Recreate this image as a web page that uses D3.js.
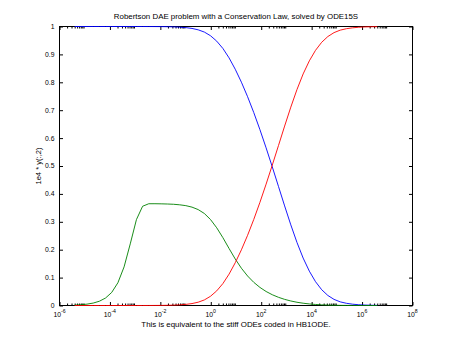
<!DOCTYPE html>
<html>
<head>
<meta charset="utf-8">
<script src="https://cdn.jsdelivr.net/npm/d3@7"></script>
<style>
  html, body { margin: 0; padding: 0; background: #fff; }
  svg { display: block; }
  text { font-family: "Liberation Sans", Arial, Helvetica, sans-serif; fill: #000; }
</style>
</head>
<body>
<svg id="chart" width="463" height="345"></svg>
<script>
// Output times of the solver (tspan = 4*logspace(-6,6), t = 0 dropped on a log axis)
const times = [
  4.0e-6, 7.03e-6, 1.2356e-5, 2.1716e-5, 3.8166e-5, 6.708e-5, 1.1789e-4, 2.072e-4,
  3.6416e-4, 6.4e-4, 1.1249e-3, 1.977e-3, 3.4746e-3, 6.1067e-3, 1.0733e-2, 1.8863e-2,
  3.3152e-2, 5.8265e-2, 0.1024, 0.17997, 0.3163, 0.55591, 0.97702, 1.7171,
  3.0179, 5.304, 9.3219, 16.383, 28.794, 50.606, 88.94, 156.31,
  274.72, 482.83, 848.6, 1491.4, 2621.2, 4606.8, 8096.6, 14230,
  25009, 43954, 77250, 135770, 238620, 419380, 737070, 1295400,
  2276700, 4000000
];

// y(:,1)
const y1 = [
  1.0000, 1.0000, 1.0000, 1.0000, 0.99999, 0.99999, 0.99999, 0.99999,
  0.99998, 0.99997, 0.99995, 0.99992, 0.99986, 0.99976, 0.99957, 0.99925,
  0.99868, 0.99769, 0.99599, 0.99306, 0.98812, 0.98002, 0.96687, 0.94752,
  0.92142, 0.88759, 0.84693, 0.80044, 0.74841, 0.69162, 0.63024, 0.56504,
  0.49696, 0.42695, 0.35686, 0.28906, 0.22592, 0.17002, 0.12311, 0.08546,
  0.05661, 0.0360, 0.0219, 0.0131, 0.0079, 0.00472, 0.00271, 0.00156,
  0.00090, 0.00052
];

// 1e4 * y(:,2)
const y2scaled = [
  0.0016, 0.0028, 0.0049, 0.0087, 0.0153, 0.0268, 0.0469, 0.0815,
  0.1384, 0.2209, 0.3079, 0.3557, 0.3647, 0.3648, 0.3644, 0.3638,
  0.3628, 0.3609, 0.3579, 0.3526, 0.3438, 0.3298, 0.3081, 0.2786,
  0.2432, 0.2044, 0.1668, 0.1336, 0.1057, 0.0830, 0.0648, 0.0502,
  0.0386, 0.0294, 0.0220, 0.0162, 0.0116, 0.0082, 0.0056, 0.0037,
  0.0024, 0.0015, 0.0009, 0.0005, 0.0003, 0.0002, 0.0001, 0.0001,
  0.0000, 0.0000
];

// y(:,3)
const y3 = [
  0, 0, 0, 0, 0, 0, 0, 0,
  0, 0, 0.00001, 0.00004, 0.00010, 0.00021, 0.00039, 0.00072,
  0.00128, 0.00227, 0.00398, 0.00691, 0.01184, 0.01995, 0.03310, 0.05245,
  0.07856, 0.11239, 0.15306, 0.19955, 0.25158, 0.30837, 0.36975, 0.43495,
  0.50304, 0.57305, 0.64314, 0.71094, 0.77408, 0.82998, 0.87689, 0.91454,
  0.94339, 0.9640, 0.9781, 0.9869, 0.9921, 0.99528, 0.99729, 0.99844,
  0.99910, 0.99948
];

const xLabelExponents = [-6, -4, -2, 0, 2, 4, 6, 8];
const yTickValues = [0, 0.1, 0.2, 0.3, 0.4, 0.5, 0.6, 0.7, 0.8, 0.9, 1];

const titleText = "Robertson DAE problem with a Conservation Law, solved by ODE15S";
const xLabelText = "This is equivalent to the stiff ODEs coded in HB1ODE.";
const yLabelText = "1e4 * y(:,2)";

const seriesList = [
  { values: y1, color: "#0000ff" },
  { values: y2scaled, color: "#008000" },
  { values: y3, color: "#ff0000" }
];

// ---- layout ----
const svg = d3.select("#chart");
const plotLeft = 59.5, plotRight = 412.5, plotTop = 26.5, plotBottom = 305.5;

const x = d3.scaleLog().domain([1e-6, 1e8]).range([plotLeft, plotRight]);
const y = d3.scaleLinear().domain([0, 1]).range([plotBottom, plotTop]);

const majorLen = 3.5, minorLen = 2;

// major ticks every other decade, minor ticks 2..9 within those decades
const majorTicks = xLabelExponents.map(e => Math.pow(10, e));
const minorTicks = [];
xLabelExponents.slice(0, -1).forEach(e => {
  for (let m = 2; m <= 9; m++) minorTicks.push(m * Math.pow(10, e));
});

function styleAxis(g) {
  g.select(".domain").remove();
  g.selectAll(".tick line").attr("stroke", "#000");
}

// ticks point into the plot on all four sides
svg.append("g").attr("transform", `translate(0,${plotBottom})`)
  .call(d3.axisTop(x).tickValues(majorTicks).tickSize(majorLen).tickFormat("")).call(styleAxis);
svg.append("g").attr("transform", `translate(0,${plotBottom})`)
  .call(d3.axisTop(x).tickValues(minorTicks).tickSize(minorLen).tickFormat("")).call(styleAxis);
svg.append("g").attr("transform", `translate(0,${plotTop})`)
  .call(d3.axisBottom(x).tickValues(majorTicks).tickSize(majorLen).tickFormat("")).call(styleAxis);
svg.append("g").attr("transform", `translate(0,${plotTop})`)
  .call(d3.axisBottom(x).tickValues(minorTicks).tickSize(minorLen).tickFormat("")).call(styleAxis);
svg.append("g").attr("transform", `translate(${plotLeft},0)`)
  .call(d3.axisRight(y).tickValues(yTickValues).tickSize(majorLen).tickFormat("")).call(styleAxis);
svg.append("g").attr("transform", `translate(${plotRight},0)`)
  .call(d3.axisLeft(y).tickValues(yTickValues).tickSize(majorLen).tickFormat("")).call(styleAxis);

// axes box
svg.append("rect")
  .attr("x", plotLeft).attr("y", plotTop)
  .attr("width", plotRight - plotLeft).attr("height", plotBottom - plotTop)
  .attr("fill", "none").attr("stroke", "#000").attr("stroke-width", 1);

// y tick labels
svg.append("g").selectAll("text").data(yTickValues).join("text")
  .attr("x", plotLeft - 5)
  .attr("y", d => y(d) + 2.4)
  .attr("text-anchor", "end")
  .attr("font-size", 6.8)
  .text(d => d === 0 ? "0" : d === 1 ? "1" : d3.format(".1f")(d));

// x tick labels: 10 with superscript exponent
const xl = svg.append("g").selectAll("text").data(xLabelExponents).join("text")
  .attr("x", d => x(Math.pow(10, d)))
  .attr("y", 317)
  .attr("text-anchor", "middle")
  .attr("font-size", 6.8);
xl.append("tspan").text("10");
xl.append("tspan").attr("dy", -3.8).attr("font-size", 5.2).text(d => d);

// solution curves
const line = d3.line()
  .x((d, i) => x(times[i]))
  .y(d => y(d));

svg.append("g").selectAll("path").data(seriesList).join("path")
  .attr("fill", "none")
  .attr("stroke", d => d.color)
  .attr("stroke-width", 0.9)
  .attr("d", d => line(d.values));

// title and axis labels
svg.append("text")
  .attr("x", (plotLeft + plotRight) / 2).attr("y", 18.6)
  .attr("text-anchor", "middle").attr("font-size", 7.9)
  .text(titleText);

svg.append("text")
  .attr("x", (plotLeft + plotRight) / 2).attr("y", 326.5)
  .attr("text-anchor", "middle").attr("font-size", 7.9)
  .text(xLabelText);

svg.append("text")
  .attr("transform", `translate(40.5,${(plotTop + plotBottom) / 2}) rotate(-90)`)
  .attr("text-anchor", "middle").attr("font-size", 7.6)
  .text(yLabelText);
</script>
</body>
</html>
